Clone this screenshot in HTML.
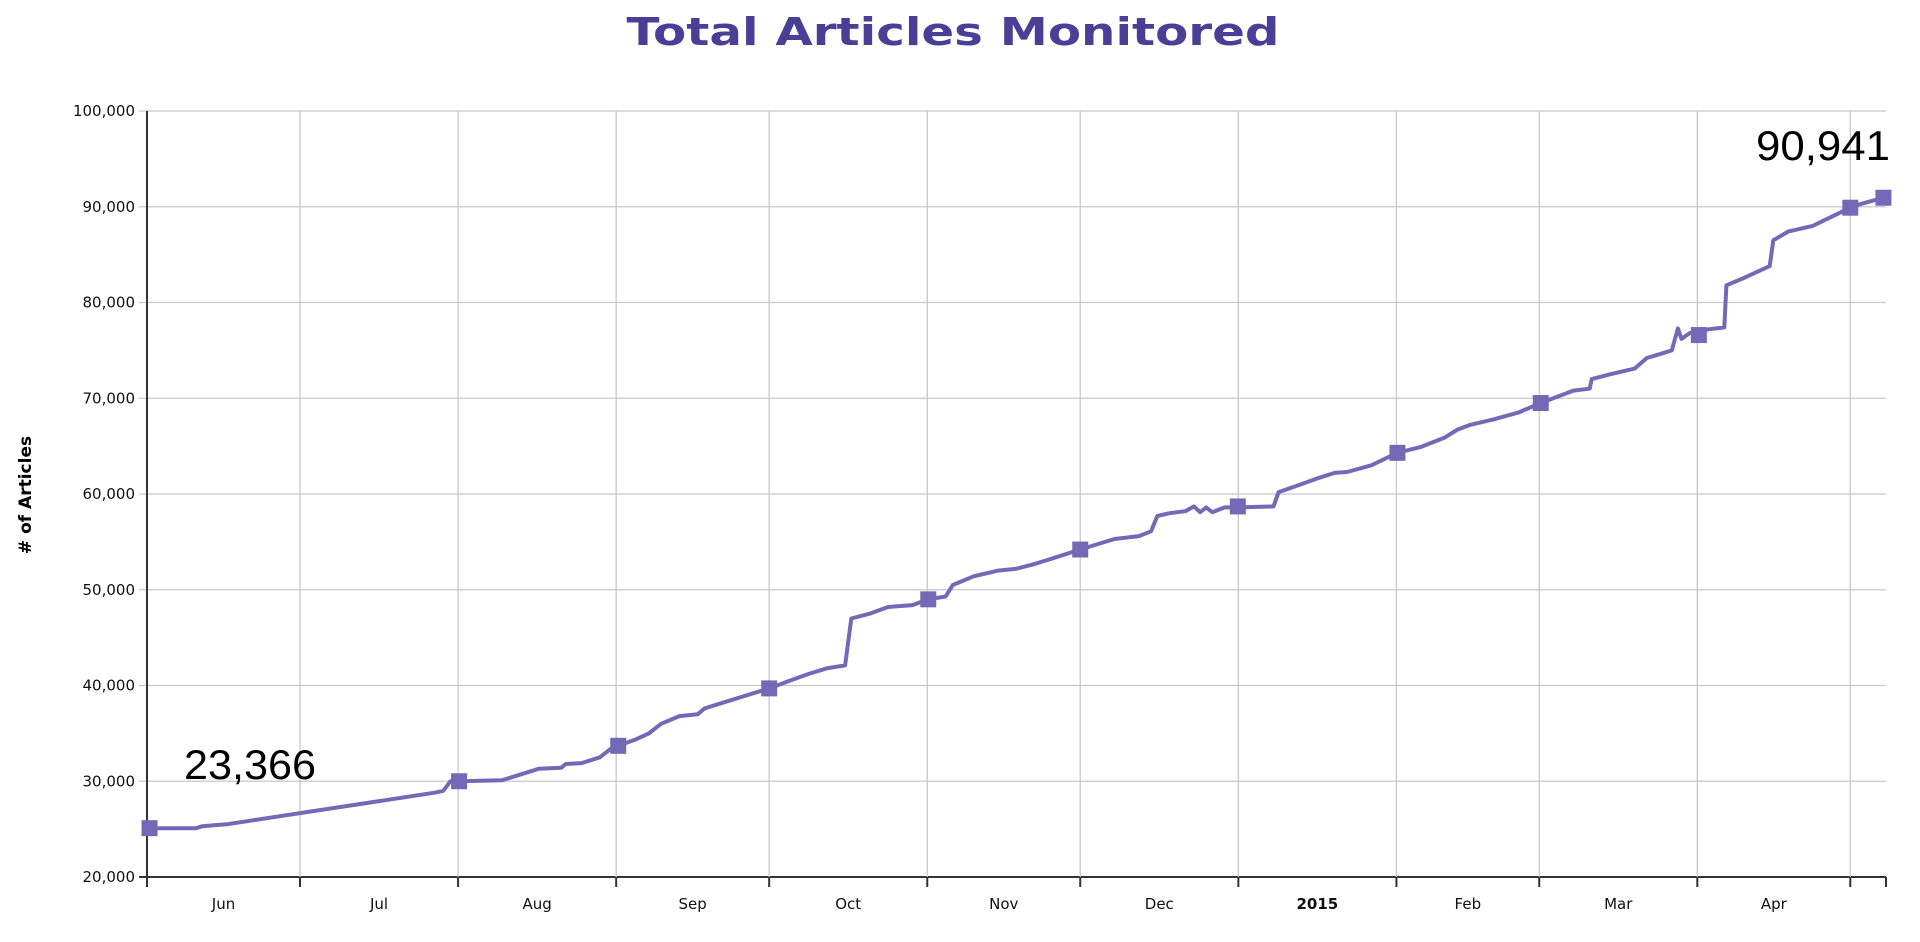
<!DOCTYPE html>
<html><head><meta charset="utf-8"><style>
html,body{margin:0;padding:0;background:#fff;width:1920px;height:942px;overflow:hidden}
svg{display:block}
</style></head><body>
<svg id="chart" width="1920" height="942" viewBox="0 0 1920 942" xmlns="http://www.w3.org/2000/svg">
<text x="953" y="45" text-anchor="middle" font-family="'DejaVu Sans','Liberation Sans',sans-serif" font-weight="bold" font-size="38" fill="#4a3f96" textLength="653" lengthAdjust="spacingAndGlyphs">Total Articles Monitored</text>
<text transform="translate(31,495) rotate(-90)" text-anchor="middle" font-family="'DejaVu Sans','Liberation Sans',sans-serif" font-weight="bold" font-size="17" fill="#000">#  of Articles</text>
<g id="grid"></g><g id="axes"></g><g id="series"></g>
<text x="184" y="779" font-family="'Liberation Sans',sans-serif" font-size="42" fill="#000" textLength="132" lengthAdjust="spacingAndGlyphs">23,366</text>
<text x="1890" y="160" text-anchor="end" font-family="'Liberation Sans',sans-serif" font-size="42" fill="#000" textLength="134" lengthAdjust="spacingAndGlyphs">90,941</text>
</svg>
<script>
const monthLabels=["Jun","Jul","Aug","Sep","Oct","Nov","Dec","2015","Feb","Mar","Apr"];
const monthStartDays=[0,30,61,92,122,153,183,214,245,273,304,334];
const yTicks=[20000,30000,40000,50000,60000,70000,80000,90000,100000];
const days=[0,9.6,10.8,15.6,56.4,58.1,59.5,61.2,69.6,76.8,81.2,82.1,85.2,88.8,91.2,92.4,96,98.4,100.8,104.4,108,109.3,112.9,122,126,129.7,133.3,136.9,138.1,141.7,145.3,150.1,153.2,156.6,158,162.1,166.9,170.5,174.1,177.7,183,189.7,194.5,196.9,198.1,200.5,203.6,205.3,206.5,207.7,208.9,211.3,213.9,220.9,221.9,225.7,229.3,232.9,235.3,240.1,245.2,249.7,254.5,256.9,259.3,264.1,268.9,273.3,279.7,282.9,283.3,286.9,291.7,294.1,297.8,299,300.2,300.9,302.5,306.2,309.3,309.7,313.3,318.2,318.9,321.8,326.6,334,336.1,340.5];
const values=[25100,25100,25300,25500,28800,29000,30000,30000,30100,31300,31400,31800,31900,32500,33500,33700,34400,35000,36000,36800,37000,37600,38200,39700,40500,41200,41800,42100,47000,47500,48200,48400,49000,49300,50500,51400,52000,52200,52700,53300,54200,55300,55600,56100,57700,58000,58200,58700,58100,58600,58100,58600,58600,58700,60200,60900,61600,62200,62300,63000,64300,64900,65900,66700,67200,67800,68500,69500,70800,71000,72000,72500,73100,74200,74800,75000,77300,76200,76800,77200,77400,81800,82600,83800,86500,87400,88000,89900,90300,90941];
const markerDays=[0.5,61.2,92.4,122,153.2,183,213.9,245.2,273.3,304.3,334,340.5];
const markerValues=[25100,30000,33700,39700,49000,54200,58700,64300,69500,76600,89900,90941];

const L=147,R=1886,T=111,B=877,D0=0,D1=341,V0=20000,V1=100000;
const x=d=>L+(d-D0)/(D1-D0)*(R-L);
const y=v=>B-(v-V0)/(V1-V0)*(B-T);
const NS="http://www.w3.org/2000/svg";
function mk(tag,attrs,parent){const e=document.createElementNS(NS,tag);for(const k in attrs)e.setAttribute(k,attrs[k]);parent.appendChild(e);return e;}
const grid=document.getElementById('grid'),axes=document.getElementById('axes'),series=document.getElementById('series');
const font="'DejaVu Sans','Liberation Sans',sans-serif";
yTicks.forEach(v=>{
  const g=mk('line',{x1:L-8,x2:R,y1:y(v),y2:y(v),stroke:v===V0?'#333':'#c8c8c8','stroke-width':v===V0?2:1.3},grid);
  
  
  const t=mk('text',{x:L-12,y:y(v)+5,'text-anchor':'end','font-family':font,'font-size':15,fill:'#111'},axes);
  t.textContent=v.toLocaleString('en-US');
  
  
});
monthStartDays.forEach((d,i)=>{
  const g=mk('line',{x1:x(d),x2:x(d),y1:T,y2:B,stroke:i===0?'#333':'#c8c8c8','stroke-width':i===0?2:1.3},grid);
  
  
  const tk=mk('line',{x1:x(d),x2:x(d),y1:B,y2:B+10,stroke:'#333','stroke-width':2},axes);
  
  
});
monthLabels.forEach((m,i)=>{
  const c=(x(monthStartDays[i])+x(monthStartDays[i+1]))/2;
  const t=mk('text',{x:c,y:909,'text-anchor':'middle','font-family':font,'font-size':15,fill:'#111','font-weight':m==='2015'?'bold':'normal'},axes);
  t.textContent=m;
  
  
});
const tkEnd=mk('line',{x1:R,x2:R,y1:B,y2:B+10,stroke:'#333','stroke-width':2},axes);


const pts=days.map((d,i)=>x(d).toFixed(1)+','+y(values[i]).toFixed(1)).join(' ');
const line=mk('polyline',{points:pts,fill:'none',stroke:'#7469b6','stroke-width':4,'stroke-linejoin':'round'},series);


markerDays.forEach((d,i)=>{
  const r=mk('rect',{x:x(d)-8,y:y(markerValues[i])-8,width:16,height:16,fill:'#7469b6'},series);
  
  
});
</script>
</body></html>
